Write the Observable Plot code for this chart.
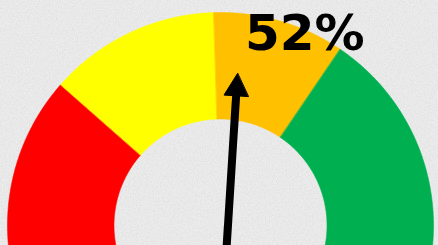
<!DOCTYPE html>
<html>
<head>
<meta charset="utf-8">
<script src="https://cdn.jsdelivr.net/npm/d3@7"></script>
<script src="https://cdn.jsdelivr.net/npm/@observablehq/plot@0.6"></script>
<style>
  html, body { margin: 0; padding: 0; background: #ebebeb; overflow: hidden; }
  #chart svg { display: block; }
</style>
</head>
<body>
<div id="chart"></div>
<script>
// ---- data ----
const bandNames  = ["Red", "Yellow", "Orange", "Green"];
const bandStarts = [0, 23, 49, 69];      // percent
const bandEnds   = [23, 49, 69, 100];    // percent
const bandColors = ["#FF0000", "#FFFF00", "#FFC000", "#00B050"];
const needleValue = 52;                  // percent
const labelText = `${needleValue}%`;

// ---- layout / style ----
const W = 438, H = 245;
const cxPx = 220, cyPx = 225, Rpx = 213;   // gauge centre & outer radius in pixels
const innerR = 0.5;                         // hole radius relative to outer
const overhang = 0.35;                      // radians the end bands run past horizontal (clipped)
const needleTail = -0.15, needleTip = 0.715, headLen = 0.105, headHalf = 0.057, pivotDx = 0.035;

const ang = p => Math.PI * (1 - p / 100);

function bandPolygon(i) {
  let a0 = ang(bandStarts[i]), a1 = ang(bandEnds[i]);
  if (i === 0) a0 += overhang;
  if (i === bandNames.length - 1) a1 -= overhang;
  const n = 140, pts = [];
  for (let k = 0; k <= n; k++) {
    const a = a0 + (a1 - a0) * k / n;
    pts.push({x: Math.cos(a), y: Math.sin(a), band: bandNames[i]});
  }
  for (let k = n; k >= 0; k--) {
    const a = a0 + (a1 - a0) * k / n;
    pts.push({x: innerR * Math.cos(a), y: innerR * Math.sin(a), band: bandNames[i]});
  }
  return pts;
}

// needle
const th = ang(needleValue);
const ux = Math.cos(th), uy = Math.sin(th);
const nx = -uy, ny = ux;
const hb = needleTip - headLen;
const shaft = [{x1: pivotDx + needleTail * ux, y1: needleTail * uy,
                x2: pivotDx + (hb + 0.01) * ux, y2: (hb + 0.01) * uy}];
const head = [
  {x: pivotDx + needleTip * ux, y: needleTip * uy},
  {x: pivotDx + hb * ux + headHalf * nx, y: hb * uy + headHalf * ny},
  {x: pivotDx + hb * ux - headHalf * nx, y: hb * uy - headHalf * ny}
];
const label = [{x: 0.115, y: 0.822, text: labelText}];

const marks = [];
bandNames.forEach((b, i) => {
  marks.push(Plot.line(bandPolygon(i), {
    x: "x", y: "y", curve: "linear-closed",
    fill: bandColors[i], stroke: bandColors[i], strokeWidth: 0.6
  }));
});
marks.push(Plot.link(shaft, {x1: "x1", y1: "y1", x2: "x2", y2: "y2", stroke: "black", strokeWidth: 8}));
marks.push(Plot.line(head, {x: "x", y: "y", curve: "linear-closed", fill: "black", stroke: "black", strokeWidth: 1}));
marks.push(Plot.text(label, {
  x: "x", y: "y", text: "text", textAnchor: "start", lineAnchor: "bottom",
  fill: "black", fontSize: 50, fontWeight: "bold", fontFamily: "DejaVu Sans"
}));

const svg = Plot.plot({
  width: W, height: H,
  margin: 0,
  style: {background: "#ececec", overflow: "hidden"},
  x: {domain: [-cxPx / Rpx, (W - cxPx) / Rpx], range: [0, W], axis: null},
  y: {domain: [-(H - cyPx) / Rpx, cyPx / Rpx], range: [H, 0], axis: null},
  marks
});

// subtle paper texture behind everything
const ns = "http://www.w3.org/2000/svg";
const defs = document.createElementNS(ns, "defs");
defs.innerHTML = `<filter id="paper" x="0" y="0" width="100%" height="100%">
  <feTurbulence type="fractalNoise" baseFrequency="0.75" numOctaves="3" seed="3" result="t"/>
  <feColorMatrix in="t" type="matrix" values="0 0 0 0 0.35  0 0 0 0 0.35  0 0 0 0 0.35  0.35 0 0 0 -0.13"/>
</filter>`;
const bg = document.createElementNS(ns, "rect");
bg.setAttribute("width", W); bg.setAttribute("height", H);
bg.setAttribute("filter", "url(#paper)");
svg.insertBefore(bg, svg.firstChild);
svg.insertBefore(defs, svg.firstChild);

document.getElementById("chart").appendChild(svg);
</script>
</body>
</html>
